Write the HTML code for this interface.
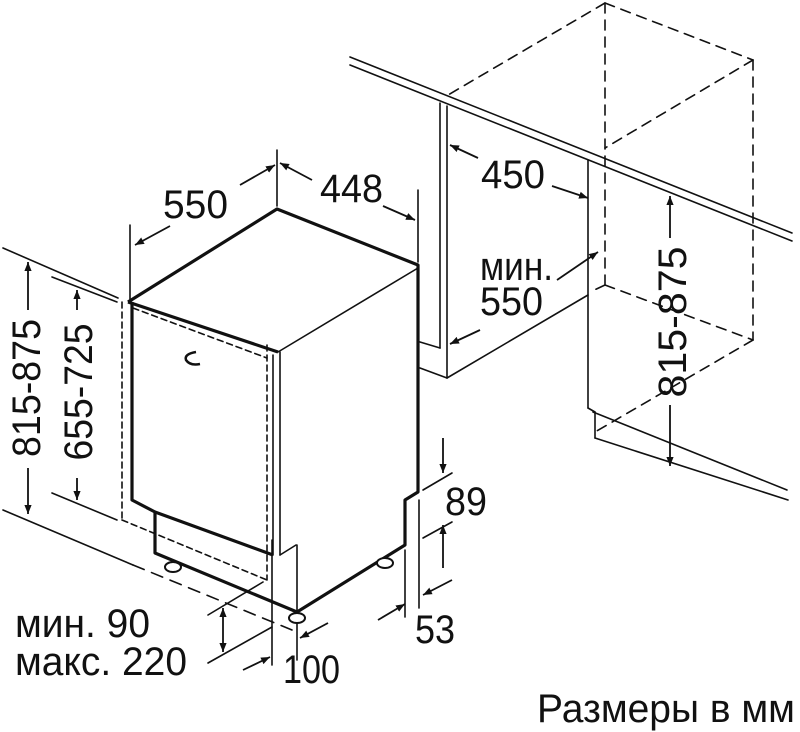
<!DOCTYPE html>
<html><head><meta charset="utf-8"><style>
html,body{margin:0;padding:0;background:#fff;width:800px;height:732px;overflow:hidden}
svg{display:block}
text{font-family:"Liberation Sans",sans-serif;fill:#111}
</style></head><body>
<svg width="800" height="732" viewBox="0 0 800 732" xmlns="http://www.w3.org/2000/svg">
<defs>
<marker id="a" viewBox="0 0 10 10" refX="10" refY="5" markerWidth="9" markerHeight="9" orient="auto-start-reverse" markerUnits="userSpaceOnUse"><path d="M0,1 L10,5 L0,9 Z" fill="#111"/></marker>
</defs>
<g fill="none" stroke="#111" stroke-width="1.6" stroke-linecap="round">
<line x1="350" y1="57" x2="792" y2="233"/>
<line x1="350" y1="65" x2="792" y2="241"/>
<line x1="440" y1="103" x2="440" y2="348"/>
<line x1="447" y1="106" x2="447" y2="378"/>
<line x1="420" y1="342" x2="440" y2="348"/>
<line x1="420" y1="368" x2="447" y2="378"/>
<line x1="447" y1="378" x2="588" y2="295"/>
<line x1="588" y1="160" x2="588" y2="408"/>
<line x1="588" y1="408" x2="595" y2="412"/>
<line x1="595" y1="412" x2="595" y2="438"/>
<line x1="593" y1="412" x2="787" y2="490"/>
<line x1="595" y1="438" x2="788" y2="500"/>
<g stroke-dasharray="10,7">
<line x1="605" y1="3" x2="753" y2="60"/>
<line x1="605" y1="3" x2="448" y2="95"/>
<line x1="753" y1="60" x2="605" y2="148"/>
<line x1="605" y1="3" x2="605" y2="285"/>
<line x1="753" y1="60" x2="753" y2="340"/>
<line x1="605" y1="285" x2="753" y2="340"/>
<line x1="753" y1="340" x2="595" y2="432"/>
<line x1="605" y1="285" x2="590" y2="292"/>
</g>
<line x1="3" y1="248" x2="118" y2="298"/>
<line x1="52" y1="277" x2="117" y2="302"/>
<line x1="52" y1="493" x2="117" y2="520"/>
<line x1="3" y1="510" x2="133" y2="565"/>
<g stroke-dasharray="6,4">
<line x1="122" y1="302" x2="122" y2="520"/>
<line x1="267" y1="345" x2="267" y2="580"/>
<line x1="133" y1="308" x2="267" y2="358"/>
<line x1="122" y1="520" x2="267" y2="580"/>
</g>
<g stroke-dasharray="12,8">
<line x1="133" y1="565" x2="292" y2="630"/>
</g>
<line x1="273" y1="355" x2="273" y2="555"/>
<line x1="280" y1="352" x2="280" y2="555"/>
<line x1="280" y1="555" x2="296" y2="545"/>
<line x1="297" y1="545" x2="297" y2="660"/>
<line x1="278" y1="352" x2="418" y2="268"/>
<line x1="130" y1="225" x2="130" y2="302"/>
<line x1="277" y1="150" x2="277" y2="206"/>
<line x1="418" y1="190" x2="418" y2="262"/>
<line x1="272" y1="540" x2="272" y2="665"/>
<line x1="405" y1="550" x2="405" y2="617"/>
<line x1="419" y1="500" x2="419" y2="608"/>
<line x1="423" y1="490" x2="452" y2="473"/>
<line x1="423" y1="538" x2="452" y2="522"/>
<line x1="208" y1="615" x2="263" y2="582"/>
<line x1="208" y1="663" x2="272" y2="627"/>
</g>
<g fill="none" stroke="#111" stroke-width="3.2" stroke-linejoin="round">
<polyline points="128,302 277,209 418,265 418,492 405,500 405,545 297,612 155,553 155,512 132,500 132,302"/>
<line x1="128" y1="302" x2="278" y2="352"/>
<line x1="155" y1="512" x2="273" y2="555"/>
<path d="M196,352 Q184,354 186,360 Q190,366 200,364" stroke-width="2.5"/>
</g>
<g fill="#fff" stroke="#111" stroke-width="2">
<ellipse cx="173" cy="567" rx="8" ry="5"/>
<ellipse cx="385" cy="563" rx="8" ry="5"/>
<ellipse cx="297" cy="618" rx="8" ry="5"/>
</g>
<g stroke="#111" stroke-width="1.8" fill="none" marker-end="url(#a)">
<line x1="170" y1="226" x2="135" y2="245"/>
<line x1="240" y1="185" x2="275" y2="165"/>
<line x1="312" y1="180" x2="280" y2="163"/>
<line x1="383" y1="206" x2="415" y2="220"/>
<line x1="28" y1="310" x2="28" y2="262"/>
<line x1="28" y1="468" x2="28" y2="514"/>
<line x1="77" y1="310" x2="77" y2="290"/>
<line x1="77" y1="478" x2="77" y2="500"/>
<line x1="478" y1="158" x2="450" y2="145"/>
<line x1="552" y1="186" x2="588" y2="198"/>
<line x1="557" y1="280" x2="598" y2="252"/>
<line x1="480" y1="330" x2="450" y2="344"/>
<line x1="670" y1="238" x2="670" y2="196"/>
<line x1="670" y1="405" x2="670" y2="466"/>
<line x1="443" y1="438" x2="443" y2="473"/>
<line x1="443" y1="568" x2="443" y2="525"/>
<line x1="378" y1="620" x2="405" y2="604"/>
<line x1="452" y1="580" x2="423" y2="595"/>
<line x1="243" y1="670" x2="270" y2="657"/>
<line x1="328" y1="623" x2="300" y2="638"/>
<line x1="223" y1="630" x2="223" y2="608"/>
<line x1="223" y1="630" x2="223" y2="652"/>
</g>
<g font-size="40">
<text x="163" y="218" textLength="65" lengthAdjust="spacingAndGlyphs">550</text>
<text x="320" y="202" textLength="63" lengthAdjust="spacingAndGlyphs">448</text>
<text x="481" y="188" textLength="64" lengthAdjust="spacingAndGlyphs">450</text>
<text x="480" y="280" textLength="73" lengthAdjust="spacingAndGlyphs">мин.</text>
<text x="480" y="315" textLength="63" lengthAdjust="spacingAndGlyphs">550</text>
<text x="445" y="515" textLength="42" lengthAdjust="spacingAndGlyphs">89</text>
<text x="415" y="643" textLength="40" lengthAdjust="spacingAndGlyphs">53</text>
<text x="283" y="683" textLength="57" lengthAdjust="spacingAndGlyphs">100</text>
<text x="15" y="637" textLength="135" lengthAdjust="spacingAndGlyphs">мин. 90</text>
<text x="15" y="675" textLength="172" lengthAdjust="spacingAndGlyphs">макс. 220</text>
<text x="537" y="722" textLength="258" lengthAdjust="spacingAndGlyphs">Размеры в мм</text>
<text transform="translate(40,388) rotate(-90)" text-anchor="middle" textLength="138" lengthAdjust="spacingAndGlyphs">815-875</text>
<text transform="translate(92,392) rotate(-90)" text-anchor="middle" textLength="137" lengthAdjust="spacingAndGlyphs">655-725</text>
<text transform="translate(686,322) rotate(-90)" text-anchor="middle" textLength="151" lengthAdjust="spacingAndGlyphs">815-875</text>
</g>
</svg>
</body></html>
